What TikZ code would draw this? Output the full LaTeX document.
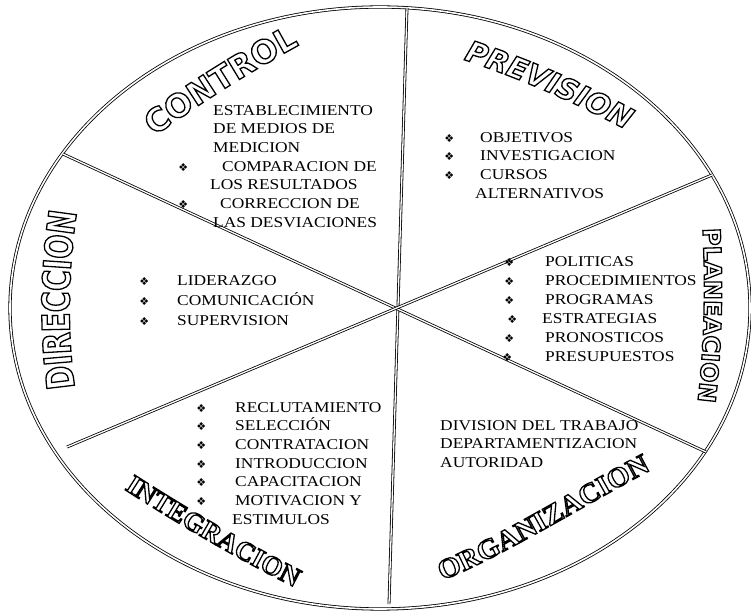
\documentclass[tikz,border=0pt]{standalone}
\usepackage{fontspec}
\setmainfont{Liberation Serif}
\newfontfamily\lstfont[FakeStretch=1.16]{Liberation Serif}
\newfontfamily\symfont{DejaVu Sans}
\newfontfamily\ttlsans{DejaVu Sans}
\newfontfamily\ttlcond[FakeStretch=0.75]{DejaVu Sans}
\newfontfamily\ttlserif{Liberation Serif}
\newfontfamily\ttlwide[FakeStretch=1.04]{Liberation Serif}
\usetikzlibrary{decorations.text}
% hollow letters: stroke the glyph outline only
\newcommand\outl[1]{\special{pdf:code 1 Tr 1.3 w}#1\special{pdf:code 0 Tr}}
\newcommand\blt{{\symfont\fontsize{11}{11}\selectfont ❖}}

\tikzset{
  rim/.style={double, double distance=1.6pt, line width=0.8pt},
  spoke/.style={double, double distance=1.3pt, line width=0.8pt},
  lst/.style={font={\lstfont\fontsize{15}{18.7}\selectfont}, align=left, anchor=north west, inner sep=0pt},
  ttl/.style 2 args={decorate, decoration={text effects along path, text={#1}, text align=center,
    text effects/.cd, text along path, character command=\outl, every character/.style={font=#2}}},
}

\begin{document}
\begin{tikzpicture}[x=1pt, y=1pt]
\useasboundingbox (0,0) rectangle (751,615);
% rim and spokes
\coordinate (ctr) at (380,307);
\coordinate (tp) at (407,607);
\coordinate (bt) at (389,11);
\coordinate (ul) at (63,461);
\coordinate (lr) at (706,163);
\coordinate (ur) at (712,440);
\coordinate (ll) at (67,168);
\draw[rim] (ctr) ellipse[x radius=370, y radius=301];
\draw[spoke] (tp) -- (bt);
\draw[spoke] (ul) -- (lr);
\draw[spoke] (ur) -- (ll);

% titles along the rim
\path[ttl={CONTROL}{\ttlsans\bfseries\fontsize{32}{32}\selectfont}]
  (141,469) .. controls (196,510) and (254,546) .. (314,578);
\path[ttl={PREVISION}{\ttlsans\bfseries\itshape\fontsize{29}{29}\selectfont}]
  (453,559) .. controls (510,540) and (564,519) .. (636,480);
\path[ttl={PLANEACION}{\ttlsans\bfseries\fontsize{24}{24}\selectfont}]
  (702,400) .. controls (706,335) and (705,265) .. (696,200);
\path[ttl={DIRECCION}{\ttlcond\bfseries\fontsize{38}{38}\selectfont}]
  (76,220) .. controls (67,275) and (67,345) .. (78,410);
\path[ttl={ORGANIZACION}{\ttlwide\bfseries\fontsize{28}{28}\selectfont}]
  (432,31) .. controls (490,50) and (600,120) .. (661,150);
\path[ttl={INTEGRACION}{\ttlserif\bfseries\fontsize{27}{27}\selectfont}]
  (110,135) .. controls (174,93) and (241,54) .. (310,20);

% lists
\node[lst] (ctrllist) at (213,510) {ESTABLECIMIENTO\\
  DE MEDIOS DE\\
  MEDICION\\
  \llap{\blt\hspace*{25pt}}\hspace*{9pt}COMPARACION DE\\
  \hspace*{-3pt}LOS RESULTADOS\\
  \llap{\blt\hspace*{25pt}}\hspace*{7pt}CORRECCION DE\\
  LAS DESVIACIONES};
\node[lst, font={\lstfont\fontsize{15}{20}\selectfont}] (dirlist) at (177,340) {\llap{\blt\hspace*{28pt}}LIDERAZGO\\
  \llap{\blt\hspace*{28pt}}COMUNICACIÓN\\
  \llap{\blt\hspace*{28pt}}SUPERVISION};
\node[lst] (prevlist) at (480,483) {\llap{\blt\hspace*{26pt}}OBJETIVOS\\
  \llap{\blt\hspace*{26pt}}INVESTIGACION\\
  \llap{\blt\hspace*{26pt}}CURSOS\\
  \hspace*{-5pt}ALTERNATIVOS};
\node[lst, font={\lstfont\fontsize{15}{19}\selectfont}] (planlist) at (545,359) {\llap{\blt\hspace*{31pt}}POLITICAS\\
  \llap{\blt\hspace*{31pt}}PROCEDIMIENTOS\\
  \llap{\blt\hspace*{31pt}}PROGRAMAS\\
  \llap{\blt\hspace*{28pt}}\hspace*{-3pt}ESTRATEGIAS\\
  \llap{\blt\hspace*{31pt}}PRONOSTICOS\\
  \llap{\blt\hspace*{33pt}}PRESUPUESTOS};
\node[lst] (orglist) at (440,195) {DIVISION DEL TRABAJO\\
  DEPARTAMENTIZACION\\
  AUTORIDAD};
\node[lst] (intlist) at (235,213) {\llap{\blt\hspace*{29pt}}RECLUTAMIENTO\\
  \llap{\blt\hspace*{29pt}}SELECCIÓN\\
  \llap{\blt\hspace*{29pt}}CONTRATACION\\
  \llap{\blt\hspace*{29pt}}INTRODUCCION\\
  \llap{\blt\hspace*{29pt}}CAPACITACION\\
  \llap{\blt\hspace*{29pt}}MOTIVACION Y\\
  \hspace*{-3pt}ESTIMULOS};
\end{tikzpicture}
\end{document}
